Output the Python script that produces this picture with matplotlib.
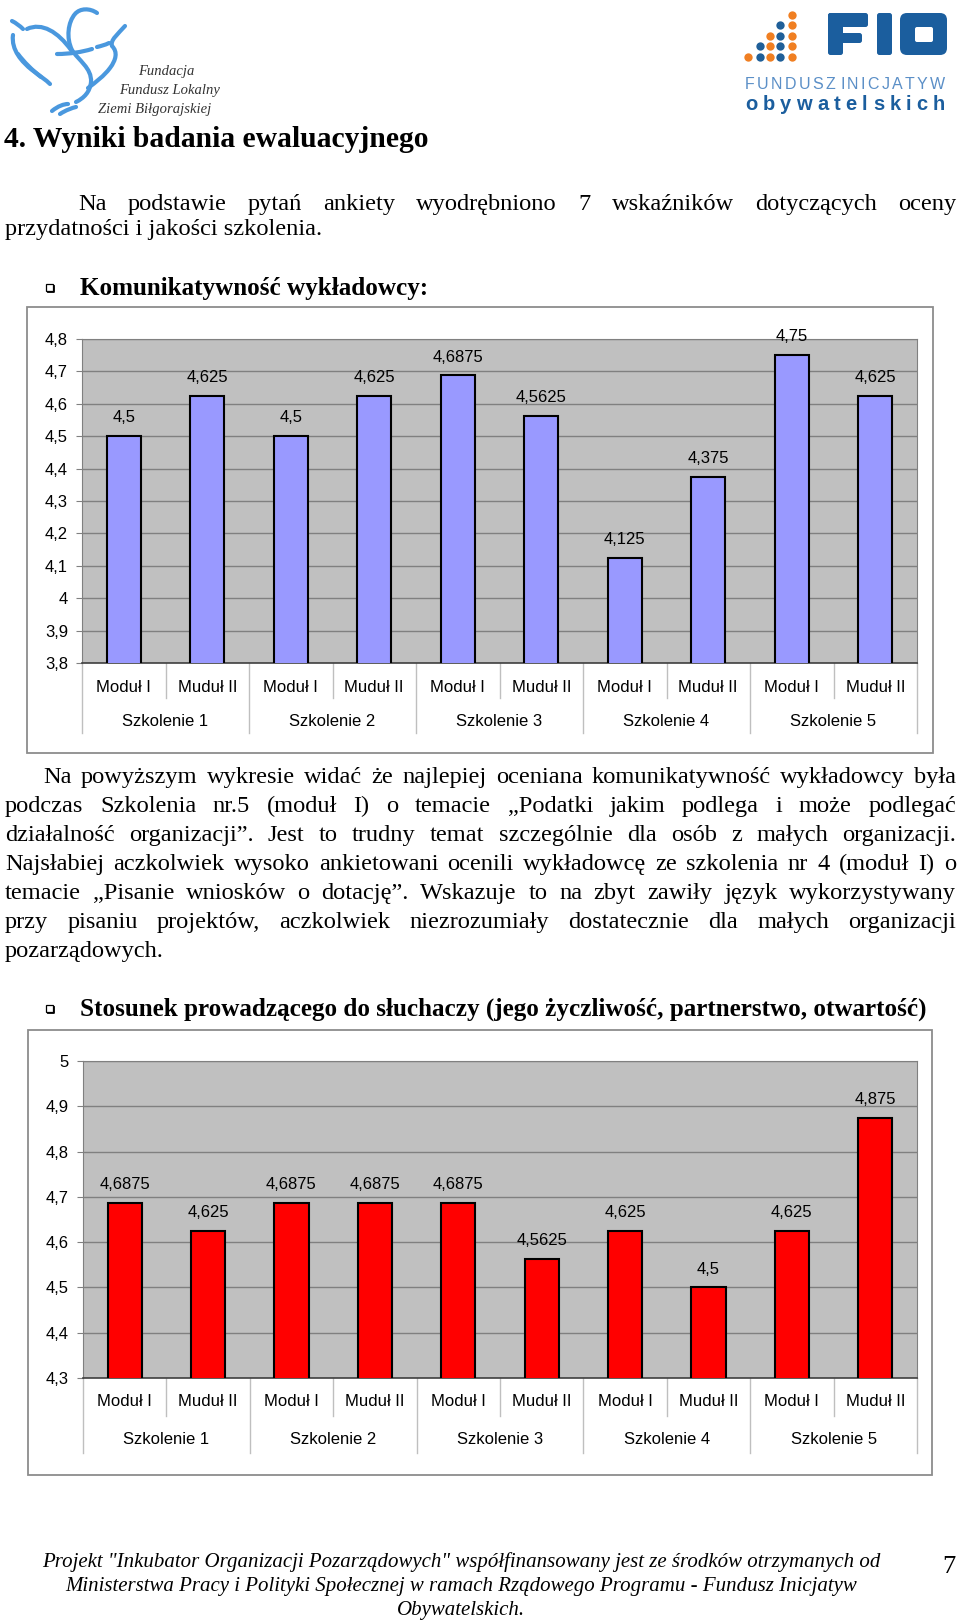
import matplotlib.pyplot as plt
import numpy as np
from matplotlib.patches import Rectangle, FancyBboxPatch, PathPatch
from matplotlib.path import Path

plt.rcParams['font.family'] = ['Liberation Sans', 'DejaVu Sans']
SERIF = ['Liberation Serif', 'DejaVu Serif']
SANS = ['Liberation Sans', 'DejaVu Sans']

# dane z wykresow
moduly = ['Moduł I', 'Muduł II'] * 5
szkolenia = ['Szkolenie 1', 'Szkolenie 2', 'Szkolenie 3', 'Szkolenie 4', 'Szkolenie 5']
komunikatywnosc = [4.5, 4.625, 4.5, 4.625, 4.6875, 4.5625, 4.125, 4.375, 4.75, 4.625]
stosunek = [4.6875, 4.625, 4.6875, 4.6875, 4.6875, 4.5625, 4.625, 4.5, 4.625, 4.875]
ticks1 = [3.8, 3.9, 4.0, 4.1, 4.2, 4.3, 4.4, 4.5, 4.6, 4.7, 4.8]
ticks2 = [4.3, 4.4, 4.5, 4.6, 4.7, 4.8, 4.9, 5.0]

W, H = 960, 1621
fig = plt.figure(figsize=(W / 100, H / 100), dpi=100)
bg = fig.add_axes([0, 0, 1, 1])
bg.set_xlim(0, W)
bg.set_ylim(H, 0)
bg.axis('off')
renderer = fig.canvas.get_renderer()


def przecinek(v):
    return f'{v:g}'.replace('.', ',')


# rozklada kawalki tekstu rowno miedzy x0 i x1 (None = pusta przerwa)
def rozstaw(kawalki, y, x0, x1, size, family=SERIF, **kw):
    ts, ws = [], []
    for k in kawalki:
        if k is None:
            ts.append(None)
            ws.append(0)
            continue
        t = bg.text(x0, y, k, fontsize=size, va='baseline', ha='left', family=family, **kw)
        ts.append(t)
        ws.append(t.get_window_extent(renderer).width)
    gap = (x1 - x0 - sum(ws)) / (len(kawalki) - 1)
    x = x0
    for t, w in zip(ts, ws):
        if t is not None:
            t.set_x(x)
        x += w + gap


def linia(tekst, y, x0, x1, size, ostatnia=False, **kw):
    if ostatnia:
        bg.text(x0, y, tekst, fontsize=size, va='baseline', ha='left', family=SERIF, **kw)
    else:
        rozstaw(tekst.split(' '), y, x0, x1, size, **kw)


def kwadracik(yc):
    bg.add_patch(Rectangle((46, yc - 4), 7, 7, fill=False, ec='black', lw=0.9))
    bg.plot([48, 54, 54], [yc + 4, yc + 4, yc - 2], color='black', lw=1.3)


# ---- logo fundacji (łabędź) ----
niebieski = '#4A98DE'
kreski = [
    [(97, 13), (90, 8), (80, 8), (75, 14), (68, 22), (66, 38), (72, 50),
     (78, 60), (92, 68), (91, 82), (90, 92), (84, 98), (76, 102)],
    [(57, 54), (70, 54), (82, 52), (92, 49)],
    [(27, 29), (42, 22), (58, 32), (71, 50)],
    [(13, 35), (11, 50), (22, 62), (32, 70), (40, 76), (46, 80), (50, 84)],
    [(12, 21), (16, 23), (20, 26), (23, 29)],
    [(18, 54), (24, 62), (32, 70), (41, 77)],
    [(125, 26), (118, 34), (110, 40), (112, 46), (118, 52), (116, 60), (110, 68),
     (104, 76), (96, 82), (88, 88)],
    [(109, 43), (105, 45), (101, 46), (97, 47)],
    [(52, 111), (58, 106), (64, 104), (68, 104)],
    [(60, 114), (66, 110), (72, 108), (76, 107)],
]
for k in kreski:
    codes = [Path.MOVETO] + [Path.CURVE4] * (len(k) - 1)
    bg.add_patch(PathPatch(Path(k, codes), fill=False, ec=niebieski, lw=3.0, capstyle='round'))
bg.text(138, 75, 'Fundacja', fontsize=10.5, style='italic', family=SERIF, color='#333333')
bg.text(119, 94, 'Fundusz Lokalny', fontsize=10.5, style='italic', family=SERIF, color='#333333')
bg.text(98, 113, 'Ziemi Biłgorajskiej', fontsize=10.5, style='italic', family=SERIF, color='#333333')

# ---- logo FIO ----
dots_x = [748, 760, 770, 780, 792]
dots_y = [57, 46, 36, 25, 15]
for r, yy in enumerate(dots_y):
    for c in range(r, 5):
        bg.scatter(dots_x[c], yy, s=36, color='#F07F22' if c % 2 == 0 else '#1F5F99', lw=0)
fio = '#1B5E9E'
for (x, y, w, h) in [(828, 13, 15, 42), (828, 13, 40, 14), (828, 33, 34, 10), (877, 13, 15, 42)]:
    bg.add_patch(FancyBboxPatch((x, y), w, h, boxstyle='round,pad=0,rounding_size=2.5', fc=fio, ec='none'))
bg.add_patch(FancyBboxPatch((900, 13), 47, 42, boxstyle='round,pad=0,rounding_size=7', fc=fio, ec='none'))
bg.add_patch(FancyBboxPatch((915, 27), 18, 15, boxstyle='round,pad=0,rounding_size=2', fc='white', ec='none'))
rozstaw(list('FUNDUSZ') + [None] + list('INICJATYW'), 89, 745, 945, 11.5, family=SANS, color='#5B8FC7')
rozstaw(list('obywatelskich'), 110.5, 745, 945, 14.5, family=SANS, color=fio, fontweight='bold')

# ---- tekst strony ----
bg.text(4, 147, '4. Wyniki badania ewaluacyjnego', fontsize=21.3, fontweight='bold', family=SERIF, va='baseline')
fs = 17.6
fsb = 18.1
linia('Na podstawie pytań ankiety wyodrębniono 7 wskaźników dotyczących oceny', 210, 78, 956, fs)
linia('przydatności i jakości szkolenia.', 235, 5, 956, fs, ostatnia=True)

kwadracik(288)
bg.text(80, 295, 'Komunikatywność wykładowcy:', fontsize=fsb, fontweight='bold', family=SERIF, va='baseline')

akapit = [
    'Na powyższym wykresie widać że najlepiej oceniana komunikatywność wykładowcy była',
    'podczas Szkolenia nr.5 (moduł I) o temacie „Podatki jakim podlega i może podlegać',
    'działalność organizacji”. Jest to trudny temat szczególnie dla osób z małych organizacji.',
    'Najsłabiej aczkolwiek wysoko ankietowani ocenili wykładowcę ze szkolenia nr 4 (moduł I) o',
    'temacie „Pisanie wniosków o dotację”. Wskazuje to na zbyt zawiły język wykorzystywany',
    'przy pisaniu projektów, aczkolwiek niezrozumiały dostatecznie dla małych organizacji',
    'pozarządowych.',
]
for i, t in enumerate(akapit):
    linia(t, 783 + i * 29, 43 if i == 0 else 5, 956, fs, ostatnia=(i == len(akapit) - 1))

kwadracik(1009)
bg.text(80, 1016, 'Stosunek prowadzącego do słuchaczy (jego życzliwość, partnerstwo, otwartość)',
        fontsize=fsb, fontweight='bold', family=SERIF, va='baseline')

stopka = [
    'Projekt "Inkubator Organizacji Pozarządowych" współfinansowany jest ze środków otrzymanych od',
    'Ministerstwa Pracy i Polityki Społecznej w ramach Rządowego Programu - Fundusz Inicjatyw',
    'Obywatelskich.',
]
for i, t in enumerate(stopka):
    bg.text(461, 1567 + i * 23.8, t, fontsize=15, style='italic', family=SERIF, ha='center', va='baseline')
bg.text(949, 1573, '7', fontsize=19, family=SERIF, ha='center', va='baseline')


# ---- wykresy ----
def wykres(ramka, pole, values, kolor, ticks, y_mod, y_szk, sep_krotki, sep_dlugi):
    bg.add_patch(Rectangle((ramka[0], ramka[1]), ramka[2] - ramka[0], ramka[3] - ramka[1],
                           fill=False, ec='#8c8c8c', lw=1.3))
    l, t, r, b = pole
    h = b - t
    ax = fig.add_axes([l / W, 1 - b / H, (r - l) / W, h / H])
    ax.set_facecolor('#C0C0C0')
    x = np.arange(len(values))
    ax.bar(x, values, width=0.41, color=kolor, edgecolor='black', lw=1.5, zorder=3)
    ax.set_xlim(-0.5, len(values) - 0.5)
    ax.set_ylim(ticks[0], ticks[-1])
    ax.set_yticks(ticks)
    ax.set_yticklabels([przecinek(v) for v in ticks])
    ax.yaxis.grid(True, color='#808080', lw=1)
    ax.set_axisbelow(True)
    ax.set_xticks([])
    ax.tick_params(axis='y', length=4, color='#808080', pad=6, labelsize=12)
    for s in ['top', 'right', 'left']:
        ax.spines[s].set_color('#808080')
    ax.spines['bottom'].set_color('#404040')
    ax.spines['bottom'].set_linewidth(1.2)
    for xi, v in zip(x, values):
        ax.annotate(przecinek(v), (xi, v), xytext=(0, 10), textcoords='offset points',
                    ha='center', va='baseline', fontsize=12)
    tr = ax.get_xaxis_transform()
    for i, m in enumerate(moduly):
        ax.text(i, (b - y_mod) / h, m, transform=tr, ha='center', va='center', fontsize=12, clip_on=False)
    for j, s in enumerate(szkolenia):
        ax.text(2 * j + 0.5, (b - y_szk) / h, s, transform=tr, ha='center', va='center', fontsize=12, clip_on=False)
    for i in range(len(values) + 1):
        xs = i - 0.5
        koniec = sep_dlugi if i % 2 == 0 else sep_krotki
        ax.plot([xs, xs], [0, (b - koniec) / h], transform=tr, color='#BFBFBF', lw=1, clip_on=False)
    return ax


wykres((27, 307, 933, 753), (82, 339, 917, 663), komunikatywnosc, '#9999FF', ticks1, 687, 721, 698, 733)
wykres((28, 1030, 932, 1475), (83, 1061, 917, 1378), stosunek, '#FF0000', ticks2, 1402, 1439, 1416, 1453)

fig.savefig('out.png', dpi=100)
